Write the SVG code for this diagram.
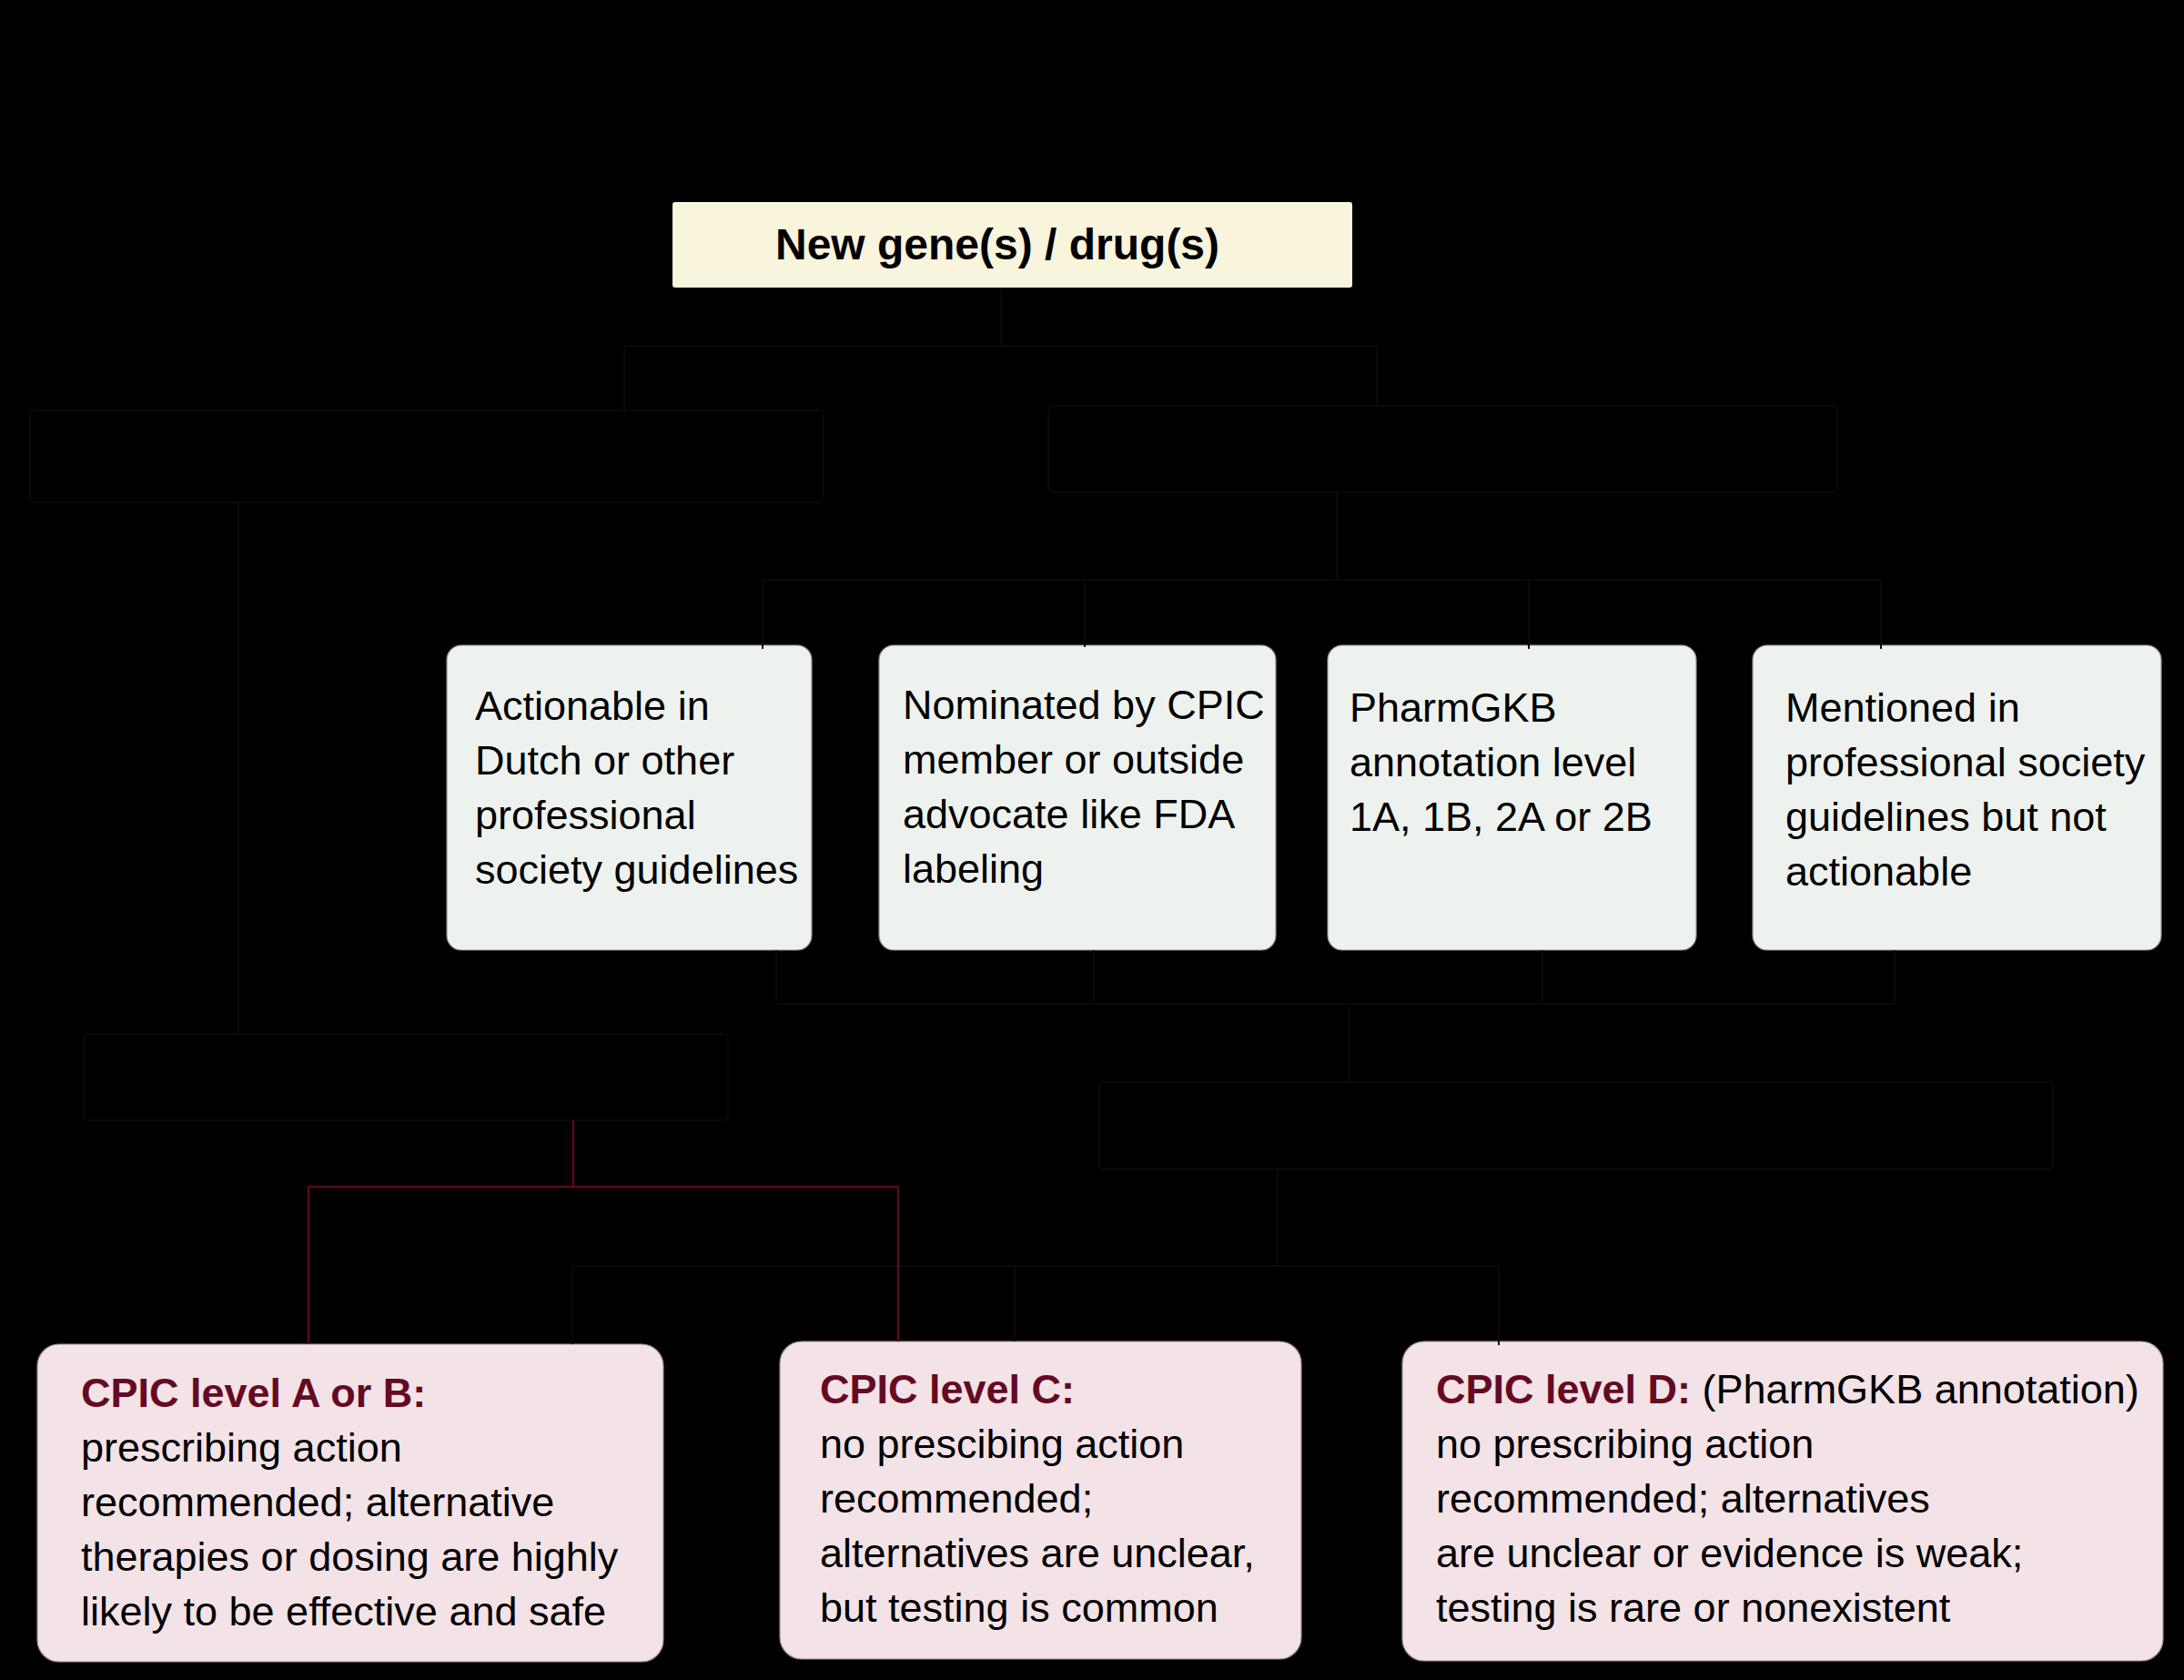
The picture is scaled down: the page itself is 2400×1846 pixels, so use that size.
<svg xmlns="http://www.w3.org/2000/svg" width="2400" height="1846" viewBox="0 0 2400 1846">
<style>
text{font-family:"Liberation Sans",Arial,sans-serif;font-size:45px;fill:#000}
.title{font-size:48px;font-weight:bold}
.lvl{font-weight:bold;fill:#650a22}
.cream{fill:#f9f4dc}
.grey{fill:#eef2ee;stroke:#8a8f8a;stroke-width:1.2}
.pink{fill:#f3e2e6;stroke:#9c8d91;stroke-width:1.2}
.ghost{fill:none;stroke:#0a0a0a;stroke-width:2}
.faint{fill:none;stroke:#0a0a0a;stroke-width:2}
.red{fill:none;stroke:#5e0816;stroke-width:2.5}
</style>
<rect width="2400" height="1846" fill="#000"/>

<g id="q1"><rect class="ghost" x="33" y="451" width="872" height="101" rx="5"/></g>
<g id="q2"><rect class="ghost" x="1152" y="446" width="867" height="95" rx="5"/></g>
<g id="q3"><rect class="ghost" x="92" y="1136" width="708" height="95" rx="5"/></g>
<g id="q4"><rect class="ghost" x="1208" y="1189" width="1048" height="96" rx="5"/></g>

<g id="start">
<rect class="cream" x="739" y="222" width="747" height="94" rx="3"/>
<text class="title" x="852" y="285">New gene(s) / drug(s)</text>
</g>

<g id="actionable">
<rect class="grey" x="491" y="709" width="401" height="335" rx="16"/>
<text x="522" y="791">Actionable in</text>
<text x="522" y="851">Dutch or other</text>
<text x="522" y="911">professional</text>
<text x="522" y="971">society guidelines</text>
</g>

<g id="nominated">
<rect class="grey" x="966" y="709" width="436" height="335" rx="16"/>
<text x="992" y="790">Nominated by CPIC</text>
<text x="992" y="850">member or outside</text>
<text x="992" y="910">advocate like FDA</text>
<text x="992" y="970">labeling</text>
</g>

<g id="pharmgkb">
<rect class="grey" x="1459" y="709" width="405" height="335" rx="16"/>
<text x="1483" y="793">PharmGKB</text>
<text x="1483" y="853">annotation level</text>
<text x="1483" y="913">1A, 1B, 2A or 2B</text>
</g>

<g id="mentioned">
<rect class="grey" x="1926" y="709" width="449" height="335" rx="16"/>
<text x="1962" y="793">Mentioned in</text>
<text x="1962" y="853">professional society</text>
<text x="1962" y="913">guidelines but not</text>
<text x="1962" y="973">actionable</text>
</g>

<g id="levelAB">
<rect class="pink" x="41" y="1477" width="688" height="349" rx="24"/>
<text class="lvl" x="89" y="1546">CPIC level A or B:</text>
<text x="89" y="1606">prescribing action</text>
<text x="89" y="1666">recommended; alternative</text>
<text x="89" y="1726">therapies or dosing are highly</text>
<text x="89" y="1786">likely to be effective and safe</text>
</g>

<g id="levelC">
<rect class="pink" x="857" y="1474" width="573" height="349" rx="24"/>
<text class="lvl" x="901" y="1542">CPIC level C:</text>
<text x="901" y="1602">no prescibing action</text>
<text x="901" y="1662">recommended;</text>
<text x="901" y="1722">alternatives are unclear,</text>
<text x="901" y="1782">but testing is common</text>
</g>

<g id="levelD">
<rect class="pink" x="1541" y="1474" width="836" height="351" rx="24"/>
<text x="1578" y="1542"><tspan class="lvl">CPIC level D:</tspan> (PharmGKB annotation)</text>
<text x="1578" y="1602">no prescribing action</text>
<text x="1578" y="1662">recommended; alternatives</text>
<text x="1578" y="1722">are unclear or evidence is weak;</text>
<text x="1578" y="1782">testing is rare or nonexistent</text>
</g>

<g id="connectors">
<path class="faint" d="M1100 316V380M686 380H1513M686 380V451M1513 380V446"/>
<path class="faint" d="M262 552V1136"/>
<path class="faint" d="M1469 541V637M838 637H2067M838 637V713M1192 637V711M1680 637V713M2067 637V713"/>
<path class="faint" d="M853 1044V1103M1202 1044V1103M1695 1044V1103M2082 1044V1103M853 1103H2082M1483 1103V1189"/>
<path class="faint" d="M1404 1285V1391M629 1391H1647M629 1391V1477M1115 1391V1474M1647 1391V1478"/>
<path class="red" d="M630 1231V1304M339 1304H987M339 1304V1477M987 1304V1474"/>
</g>
</svg>
